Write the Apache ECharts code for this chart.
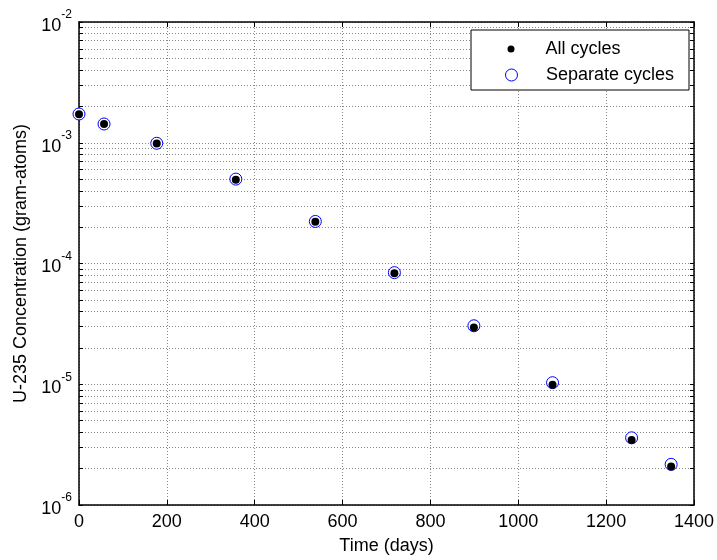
<!DOCTYPE html>
<html>
<head>
<meta charset="utf-8">
<script src="https://cdn.jsdelivr.net/npm/echarts@6/dist/echarts.min.js"></script>
<style>html,body{margin:0;padding:0;background:#fff;}#c{width:717px;height:560px;}</style>
</head>
<body>
<div id="c"></div>
<script>
var days = [0, 57, 177, 357, 538, 718, 899, 1078, 1258, 1348];
var allCycles = [1.72e-3, 1.43e-3, 9.85e-4, 4.95e-4, 2.22e-4, 8.3e-5, 2.95e-5, 9.9e-6, 3.45e-6, 2.08e-6];
var separateCycles = [1.73e-3, 1.43e-3, 9.9e-4, 5.0e-4, 2.23e-4, 8.4e-5, 3.05e-5, 1.03e-5, 3.6e-6, 2.17e-6];
var seriesNames = ['All cycles', 'Separate cycles'];
var xTicks = [0, 200, 400, 600, 800, 1000, 1200, 1400];
var yDecades = [1e-6, 1e-5, 1e-4, 1e-3, 1e-2];
var xTitle = 'Time (days)';
var yTitle = 'U-235 Concentration (gram-atoms)';

var FONT = '"Liberation Sans", Arial, sans-serif';
var yMinor = [];
for (var d = 0; d < yDecades.length - 1; d++) {
  for (var k = 1; k <= 9; k++) yMinor.push(parseFloat((k * yDecades[d]).toPrecision(3)));
}
yMinor.push(yDecades[yDecades.length - 1]);

var gridLine = { show: true, lineStyle: { color: '#888', width: 1, type: [1, 2] } };
function yAxisBase(pos, showLabel) {
  return {
    type: 'log', logBase: 10, position: pos, min: 1e-6, max: 1e-2,
    axisLine: { show: true, onZero: false, lineStyle: { color: '#000', width: 1.5 } },
    axisTick: { show: true, inside: true, length: 4, customValues: yMinor, lineStyle: { color: '#000' } },
    minorTick: { show: false },
    splitLine: showLabel ? gridLine : { show: false },
    axisLabel: showLabel ? {
      show: true, margin: 7, customValues: yDecades,
      formatter: function (v) { return '{b|10}{s|' + Math.round(Math.log10(v)) + '}'; },
      rich: {
        b: { fontSize: 18, fontFamily: FONT, color: '#000', lineHeight: 26, verticalAlign: 'bottom' },
        s: { fontSize: 12, fontFamily: FONT, color: '#000', lineHeight: 26, verticalAlign: 'top' }
      }
    } : { show: false },
    name: showLabel ? yTitle : '',
    nameLocation: 'middle', nameGap: 47,
    nameTextStyle: { fontSize: 18, fontFamily: FONT, color: '#000' }
  };
}
function xAxisBase(pos, showLabel) {
  return {
    type: 'value', position: pos, min: 0, max: 1400, interval: 200,
    axisLine: { show: true, onZero: false, lineStyle: { color: '#000', width: 1.5 } },
    axisTick: { show: true, inside: true, length: 5, lineStyle: { color: '#000' } },
    splitLine: showLabel ? gridLine : { show: false },
    axisLabel: showLabel ? { show: true, margin: 8, fontSize: 18, fontFamily: FONT, color: '#000',
      customValues: xTicks, formatter: function (v) { return String(v); } } : { show: false },
    name: showLabel ? xTitle : '',
    nameLocation: 'middle', nameGap: 32,
    nameTextStyle: { fontSize: 18, fontFamily: FONT, color: '#000' }
  };
}

var chart = echarts.init(document.getElementById('c'), null, { renderer: 'canvas' });
chart.setOption({
  animation: false,
  backgroundColor: '#fff',
  grid: { left: 79, right: 21, top: 22, bottom: 53, containLabel: false },
  xAxis: [xAxisBase('bottom', true), xAxisBase('top', false)],
  yAxis: [yAxisBase('left', true), yAxisBase('right', false)],
  graphic: [{
    type: 'rect', z: 3, shape: { x: 471, y: 30, width: 218, height: 60 },
    style: { fill: '#fff', stroke: '#000', lineWidth: 1 }
  }],
  legend: [{
    data: [{ name: seriesNames[0], icon: 'circle', itemStyle: { color: '#000', opacity: 1 } }],
    left: 507.5, top: 39, padding: 0, itemWidth: 7, itemHeight: 7,
    textStyle: { fontSize: 18, fontFamily: FONT, color: '#000', lineHeight: 20, padding: [0, 0, 0, 26] },
    selectedMode: false, z: 5
  }, {
    data: [{ name: seriesNames[1], icon: 'circle', itemStyle: { color: '#fff', borderColor: '#0000ff', borderWidth: 1, opacity: 1 } }],
    left: 505, top: 65, padding: 0, itemWidth: 12, itemHeight: 12,
    textStyle: { fontSize: 18, fontFamily: FONT, color: '#000', lineHeight: 20, padding: [0, 0, 0, 23.5] },
    selectedMode: false, z: 5
  }],
  series: [{
    name: seriesNames[1], type: 'scatter', xAxisIndex: 0, yAxisIndex: 0,
    symbol: 'circle', symbolSize: 12,
    itemStyle: { color: '#fff', borderColor: '#0000ff', borderWidth: 1, opacity: 1 },
    data: days.map(function (d, i) { return [d, separateCycles[i]]; }), z: 2
  }, {
    name: seriesNames[0], type: 'scatter', xAxisIndex: 0, yAxisIndex: 0,
    symbol: 'circle', symbolSize: 8,
    itemStyle: { color: '#000', opacity: 1 },
    data: days.map(function (d, i) { return [d, allCycles[i]]; }), z: 3
  }]
});
</script>
</body>
</html>
